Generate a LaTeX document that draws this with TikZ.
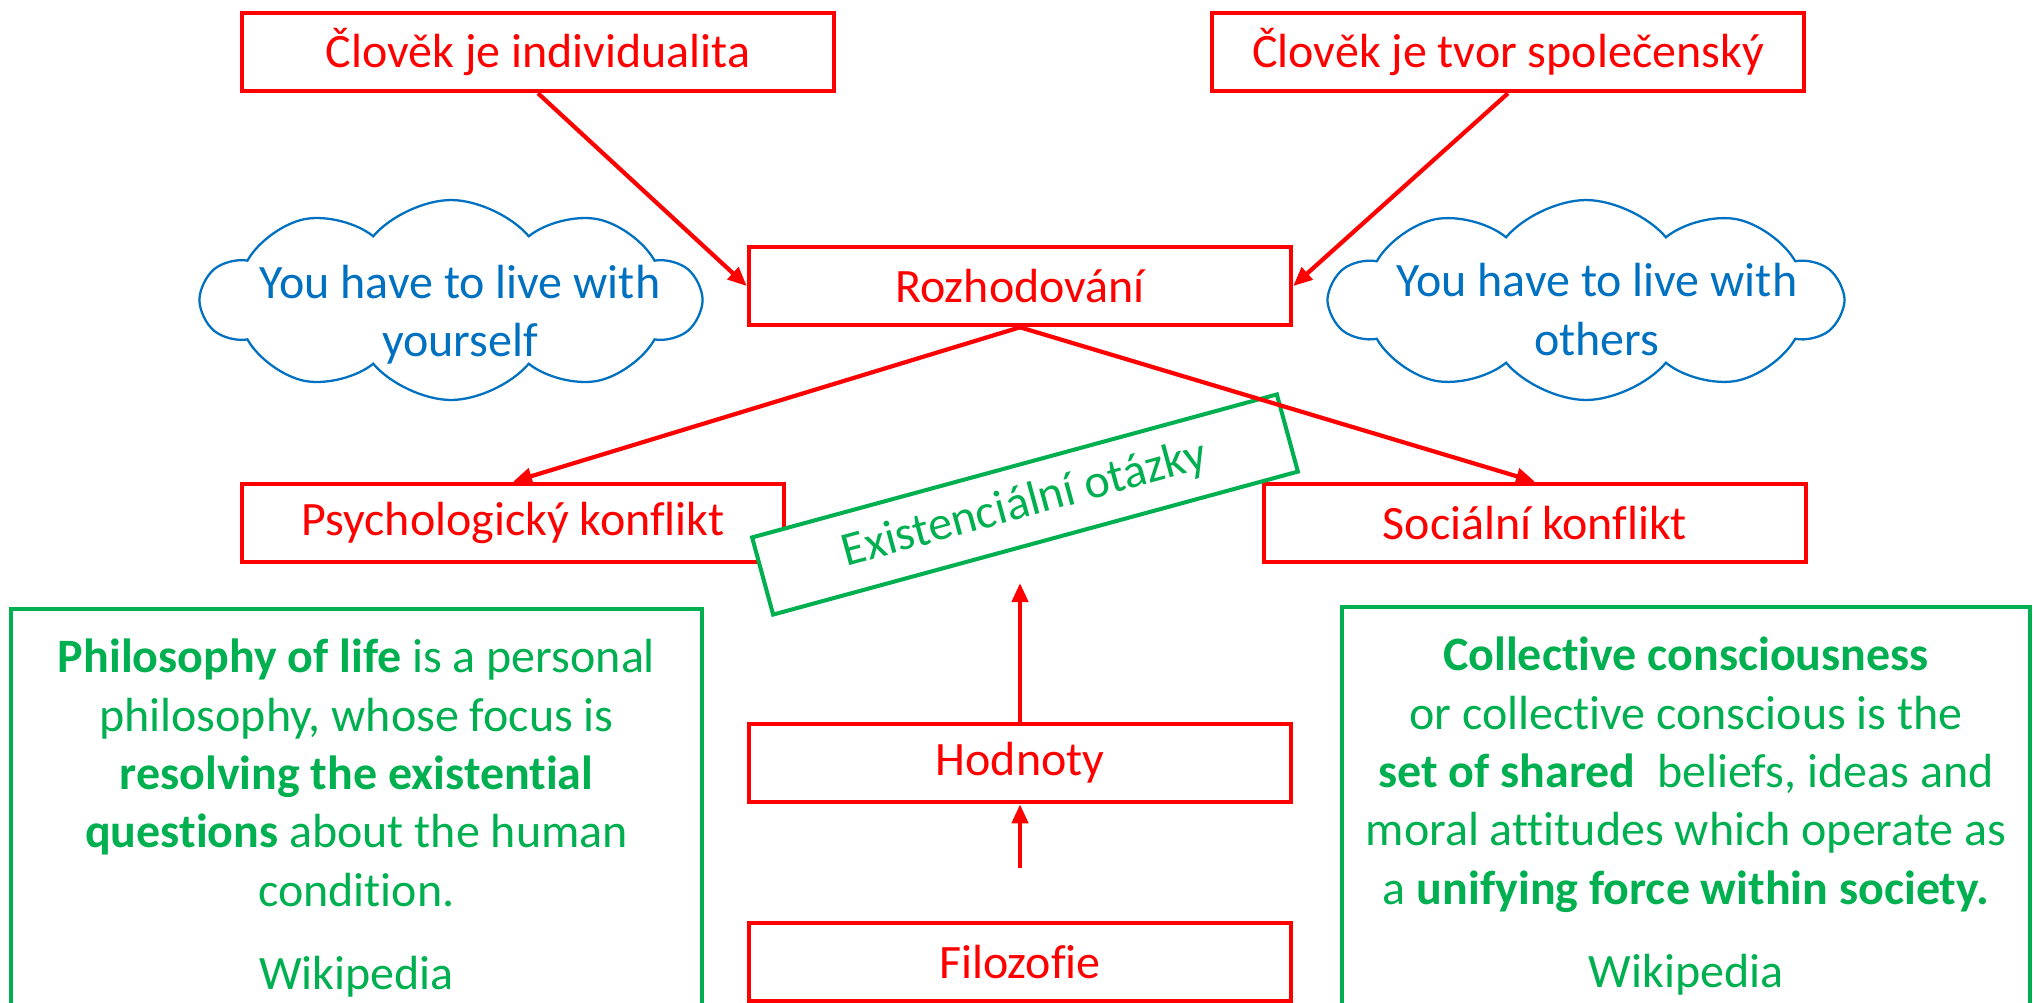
\documentclass[tikz,border=0pt]{standalone}
\usepackage{fontspec}
\setmainfont{Carlito}[Ligatures=NoCommon]
\usetikzlibrary{shapes.symbols,arrows.meta,positioning}
\definecolor{boxred}{HTML}{FF0000}
\definecolor{cloudblue}{HTML}{0070C0}
\definecolor{notegreen}{HTML}{00B050}
\newcommand{\bigfont}{\fontsize{27.3}{33.2}\selectfont}
\tikzset
{
    redbox/.style  = {draw=boxred, text=boxred, line width=2.6pt, minimum width=10.84cm, minimum height=1.56cm, align=center, font=\bigfont},
    topbox/.style  = {redbox, minimum width=11.84cm},
    thought/.style = {cloud, draw=cloudblue, line width=1.3pt, cloud puffs=10, cloud puff arc=100, aspect=2.5, minimum width=9.96cm, minimum height=4cm},
    notebox/.style = {draw=notegreen, text=notegreen, line width=2.3pt, align=flush center, anchor=north, text width=13.6cm, inner xsep=0.05cm, inner ysep=0.6cm, font=\bigfont},
    tagbox/.style  = {draw=notegreen, text=notegreen, fill=white, line width=2.3pt, minimum width=10.88cm, minimum height=1.6cm, font=\bigfont},
    link/.style    = {->, draw=boxred, line width=2.4pt}
}

\begin{document}
\begin{tikzpicture}[x=0.02cm, y=-0.02cm, >={Triangle[length=0.38cm, width=0.32cm]}]
    \useasboundingbox (0,0) rectangle (2033,1002);
    \clip (0,0) rectangle (2033,1002);
    % top level
    \node [topbox] (individual) at (538,52) {Člověk je individualita};
    \node [topbox] (social) at (1508,52) {Člověk je tvor společenský};
    \node [redbox] (decision) at (1020,286) {Rozhodování};
    % thought clouds
    \node [thought, label={[text=cloudblue, align=center, font=\bigfont, xshift=0.18cm, yshift=-0.29cm]center:You have to live with\\yourself}] (self) at (451,300) {};
    \node [thought, minimum width=10.22cm, label={[text=cloudblue, align=center, font=\bigfont, xshift=0.22cm, yshift=-0.19cm]center:You have to live with\\others}] (others) at (1586,300) {};
    % conflicts
    \node [redbox] (psych) at (513,523) {Psychologický konflikt};
    \node [redbox] (conflict) at (1535,523) {Sociální konflikt};
    \node [tagbox, rotate=15.24] (questions) at (1025,504.5) {Existenciální otázky};
    % bottom column
    \node [redbox] (values) at (1020,763) {Hodnoty};
    \node [redbox] (philosophy) at (1020,962) {Filozofie};
    % quotations
    \node [notebox, minimum width=13.82cm] (life) at (356.5,607)
    {
        \textbf{Philosophy of life} is a personal\\
        philosophy, whose focus is\\
        \textbf{resolving the existential}\\
        \textbf{questions} about the human\\
        condition.\\[0.5cm]
        Wikipedia
    };
    \node [notebox, minimum width=13.76cm] (collective) at (1686,605)
    {
        \textbf{Collective consciousness}\\
        or collective conscious is the\\
        \textbf{set of shared}\ \ beliefs, ideas and\\
        moral attitudes which operate as\\
        a \textbf{unifying force within society.}\\[0.5cm]
        Wikipedia
    };
    % connectors
    \draw [link] (individual.south) -- (decision.west);
    \draw [link] (social.south) -- (decision.east);
    \draw [link] (decision.south) -- (psych.north);
    \draw [link] (decision.south) -- (conflict.north);
    \coordinate (qtip) at (1020,583);
    \coordinate (phtail) at (1020,868);
    \draw [link] (values.north) -- (qtip);
    \draw [link] (phtail) -- (values.south);
\end{tikzpicture}
\end{document}
